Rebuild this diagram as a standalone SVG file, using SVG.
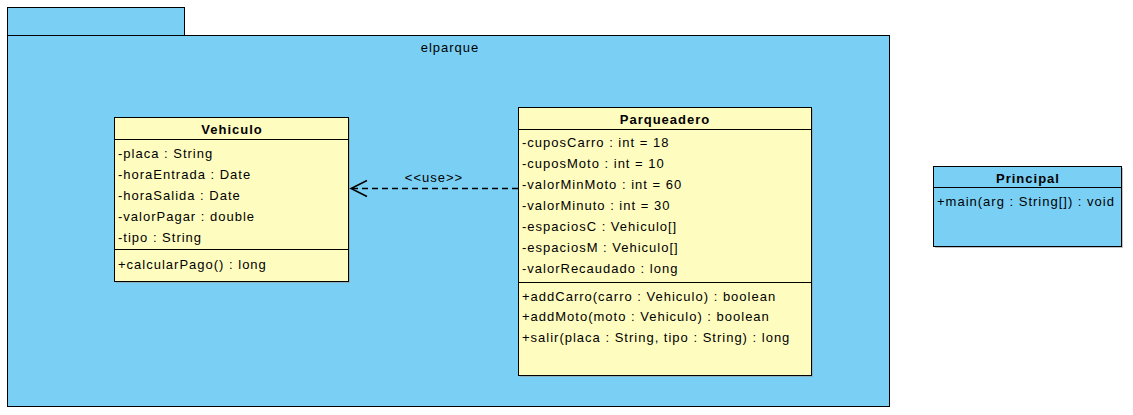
<svg xmlns="http://www.w3.org/2000/svg" width="1133" height="415" viewBox="0 0 1133 415">
<style>
.pkg{fill:#7acff5;stroke:#000;stroke-width:1}
.cls{fill:#fffcc0;stroke:#000;stroke-width:1}
.clsb{fill:#7acff5;stroke:#000;stroke-width:1}
.sh{fill:#999;opacity:0.6}
.ln{stroke:#000;stroke-width:1}
text{font-family:"Liberation Sans",Arial,sans-serif;font-size:13px;fill:#000;letter-spacing:1px}
.t{font-weight:bold;text-anchor:middle}
.c{text-anchor:middle}
</style>
<g id="elparque">
<rect class="pkg" x="7.5" y="7.5" width="177" height="28"/>
<rect class="pkg" x="7.5" y="35.5" width="882" height="371"/>
<text class="c" x="450" y="52">elparque</text>
</g>
<g id="Vehiculo">
<rect class="sh" x="116" y="119" width="234" height="164"/>
<rect class="cls" x="114.5" y="117.5" width="234" height="164"/>
<line class="ln" x1="114.5" y1="139.5" x2="348.5" y2="139.5"/>
<line class="ln" x1="114.5" y1="249.5" x2="348.5" y2="249.5"/>
<text class="t" x="232" y="134">Vehiculo</text>
<text x="118" y="158">-placa : String</text>
<text x="118" y="179">-horaEntrada : Date</text>
<text x="118" y="200">-horaSalida : Date</text>
<text x="118" y="221">-valorPagar : double</text>
<text x="118" y="242">-tipo : String</text>
<text x="118" y="269">+calcularPago() : long</text>
</g>
<g id="Parqueadero">
<rect class="sh" x="520" y="109" width="293" height="268"/>
<rect class="cls" x="518.5" y="107.5" width="293" height="268"/>
<line class="ln" x1="518.5" y1="129.5" x2="811.5" y2="129.5"/>
<line class="ln" x1="518.5" y1="282.5" x2="811.5" y2="282.5"/>
<text class="t" x="665" y="124">Parqueadero</text>
<text x="522" y="147">-cuposCarro : int = 18</text>
<text x="522" y="168">-cuposMoto : int = 10</text>
<text x="522" y="189">-valorMinMoto : int = 60</text>
<text x="522" y="210">-valorMinuto : int = 30</text>
<text x="522" y="231">-espaciosC : Vehiculo[]</text>
<text x="522" y="252">-espaciosM : Vehiculo[]</text>
<text x="522" y="273">-valorRecaudado : long</text>
<text x="522" y="301">+addCarro(carro : Vehiculo) : boolean</text>
<text x="522" y="321">+addMoto(moto : Vehiculo) : boolean</text>
<text x="522" y="342">+salir(placa : String, tipo : String) : long</text>
</g>
<g id="Principal">
<rect class="sh" x="935" y="168" width="188" height="80"/>
<rect class="clsb" x="933.5" y="166.5" width="188" height="80"/>
<line class="ln" x1="933.5" y1="187.5" x2="1121.5" y2="187.5"/>
<text class="t" x="1028" y="183">Principal</text>
<text x="937" y="206">+main(arg : String[]) : void</text>
</g>
<g id="connectors">
<line x1="518" y1="188.5" x2="352" y2="188.5" stroke="#000" stroke-width="1.5" stroke-dasharray="6,4"/>
<polyline points="367,180.5 351,188.5 367,196.5" fill="none" stroke="#000" stroke-width="1.5"/>
<text class="c" x="434" y="182">&lt;&lt;use&gt;&gt;</text>
</g>
</svg>
